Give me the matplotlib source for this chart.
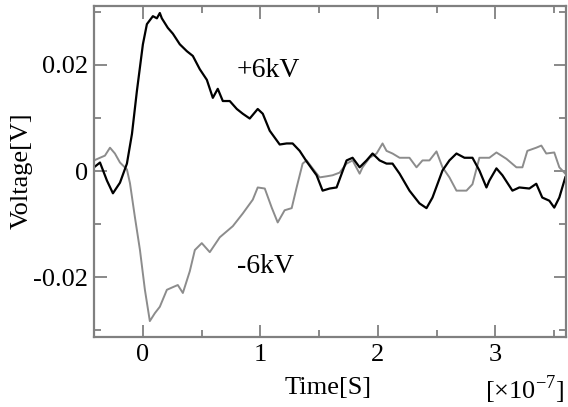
import matplotlib
matplotlib.use("Agg")
from matplotlib import pyplot as plt
from matplotlib.ticker import MultipleLocator

# +6kV trace (black), time in units of 1e-7 s, voltage in V
t_pos = [-0.416, -0.365, -0.306, -0.255, -0.195, -0.136, -0.093, -0.051, 0.0, 0.034,
         0.085, 0.119, 0.144, 0.161, 0.212, 0.255, 0.314, 0.374, 0.425, 0.484,
         0.544, 0.595, 0.637, 0.680, 0.739, 0.799, 0.850, 0.909, 0.977, 1.020,
         1.079, 1.164, 1.223, 1.274, 1.334, 1.393, 1.478, 1.529, 1.589, 1.648,
         1.733, 1.784, 1.844, 1.903, 1.954, 2.014, 2.073, 2.124, 2.184, 2.268,
         2.353, 2.413, 2.464, 2.549, 2.608, 2.668, 2.736, 2.804, 2.863, 2.923,
         2.948, 3.008, 3.059, 3.144, 3.203, 3.288, 3.347, 3.398, 3.458, 3.500,
         3.543, 3.594]
v_pos = [0.0007, 0.0016, -0.0018, -0.0042, -0.0022, 0.0014, 0.0070, 0.0151, 0.0239, 0.0277,
         0.0292, 0.0288, 0.0298, 0.0288, 0.0270, 0.0259, 0.0239, 0.0226, 0.0217, 0.0192,
         0.0172, 0.0138, 0.0155, 0.0132, 0.0132, 0.0117, 0.0108, 0.0099, 0.0117, 0.0108,
         0.0076, 0.0050, 0.0052, 0.0052, 0.0038, 0.0018, -0.0008, -0.0037, -0.0033, -0.0031,
         0.0020, 0.0025, 0.0007, 0.0020, 0.0033, 0.0020, 0.0014, 0.0014, -0.0005, -0.0037,
         -0.0061, -0.0070, -0.0050, 0.0001, 0.0020, 0.0033, 0.0025, 0.0025, 0.0001, -0.0031,
         -0.0018, 0.0005, -0.0008, -0.0037, -0.0031, -0.0033, -0.0024, -0.0050, -0.0056, -0.0069,
         -0.0050, -0.0012]

# -6kV trace (gray)
t_neg = [-0.416, -0.365, -0.323, -0.280, -0.238, -0.195, -0.136, -0.110, -0.068, -0.025,
         0.017, 0.059, 0.102, 0.144, 0.204, 0.255, 0.297, 0.340, 0.399, 0.442,
         0.501, 0.569, 0.654, 0.765, 0.850, 0.935, 0.977, 1.037, 1.096, 1.147,
         1.206, 1.266, 1.308, 1.359, 1.393, 1.444, 1.504, 1.563, 1.614, 1.674,
         1.733, 1.784, 1.844, 1.869, 1.929, 1.988, 2.039, 2.073, 2.124, 2.184,
         2.268, 2.328, 2.379, 2.438, 2.498, 2.549, 2.608, 2.668, 2.753, 2.804,
         2.863, 2.948, 3.008, 3.093, 3.178, 3.229, 3.271, 3.347, 3.390, 3.432,
         3.500, 3.543, 3.594]
v_neg = [0.0020, 0.0025, 0.0029, 0.0044, 0.0033, 0.0016, 0.0003, -0.0023, -0.0087, -0.0149,
         -0.0224, -0.0283, -0.0268, -0.0256, -0.0224, -0.0219, -0.0215, -0.0230, -0.0189, -0.0149,
         -0.0136, -0.0153, -0.0125, -0.0104, -0.0080, -0.0054, -0.0031, -0.0033, -0.0069, -0.0097,
         -0.0074, -0.0070, -0.0031, 0.0014, 0.0020, 0.0005, -0.0012, -0.0010, -0.0008, -0.0003,
         0.0014, 0.0020, -0.0005, 0.0007, 0.0025, 0.0033, 0.0052, 0.0038, 0.0033, 0.0025,
         0.0025, 0.0007, 0.0020, 0.0020, 0.0037, 0.0007, -0.0012, -0.0037, -0.0037, -0.0025,
         0.0025, 0.0025, 0.0035, 0.0023, 0.0007, 0.0007, 0.0038, 0.0044, 0.0048, 0.0033,
         0.0035, 0.0007, -0.0005]

xticks = [0, 1, 2, 3]
yticks = [-0.02, 0, 0.02]
ytick_labels = ["-0.02", "0", "0.02"]

plt.rcParams['font.family'] = ['Liberation Serif', 'DejaVu Serif']
plt.rcParams['mathtext.fontset'] = 'custom'
plt.rcParams['mathtext.rm'] = 'Liberation Serif'
fig = plt.figure(figsize=(5.68, 4.07), dpi=100)
ax = fig.add_axes([0.1655, 0.172, 0.831, 0.813])

ax.plot(t_neg, v_neg, color='#8c8c8c', lw=1.4)
ax.plot(t_pos, v_pos, color='black', lw=1.6)

ax.set_xlim(-0.416, 3.6)
ax.set_ylim(-0.0313, 0.0311)
ax.set_xticks(xticks)
ax.set_yticks(yticks)
ax.set_yticklabels(ytick_labels)
ax.xaxis.set_minor_locator(MultipleLocator(0.5))
ax.yaxis.set_minor_locator(MultipleLocator(0.01))
ax.tick_params(which='both', direction='in', top=True, right=True,
               color='#808080', width=1.3, labelsize=19)
ax.tick_params(axis='x', pad=5)
ax.tick_params(axis='y', pad=4)
ax.tick_params(which='major', length=9)
ax.tick_params(which='minor', length=5)
for s in ax.spines.values():
    s.set_color('#808080')
    s.set_linewidth(1.6)

ax.text(0.80, 0.0189, '+6kV', fontsize=20, va='center', ha='left')
ax.text(0.80, -0.0181, '-6kV', fontsize=20, va='center', ha='left')

fig.text(22/568, 1 - 171/407, 'Voltage[V]', fontsize=19, rotation=90,
         ha='center', va='center')
fig.text(328/568, 1 - 388/407, 'Time[S]', fontsize=19, ha='center', va='center')
fig.text(564/568, 1 - 390/407, r'[$\times$10$^{-7}$]', fontsize=19, ha='right', va='center')

fig.savefig('out.png', dpi=100)
